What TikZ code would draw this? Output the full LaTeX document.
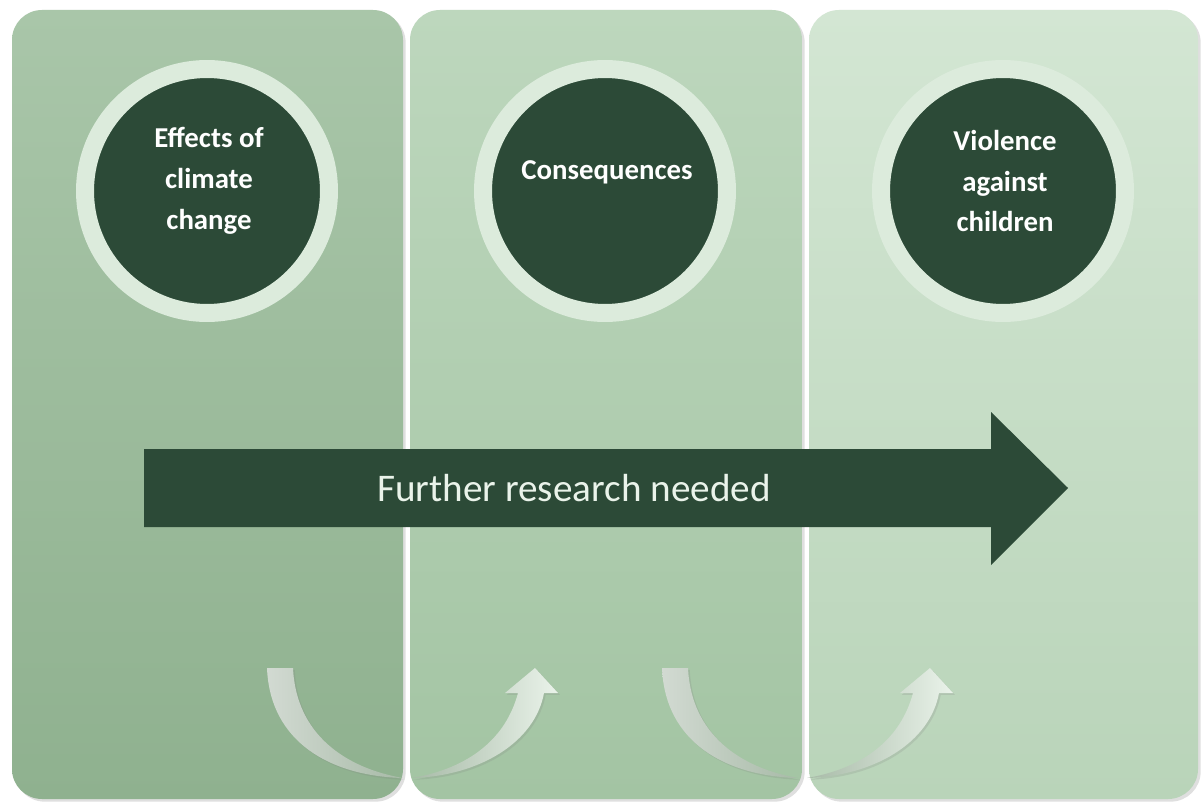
\documentclass[tikz,border=0pt]{standalone}
\usepackage{fontspec}
\setmainfont{Carlito}
\usetikzlibrary{shadows}

\definecolor{darkleaf}{HTML}{2C4A37}
\definecolor{ringleaf}{HTML}{DCEBDC}
\definecolor{panelAtop}{HTML}{A9C6A9}
\definecolor{panelAbot}{HTML}{8FB18F}
\definecolor{panelBtop}{HTML}{BDD7BD}
\definecolor{panelBbot}{HTML}{A3C4A3}
\definecolor{panelCtop}{HTML}{D3E6D3}
\definecolor{panelCbot}{HTML}{B9D4B9}
\definecolor{curvestart}{HTML}{D2DAD2}
\definecolor{curveend}{HTML}{A7BAA7}

\tikzset{
  panel/.style={rounded corners=0.6cm, draw=none,
    drop shadow={opacity=0.25, shadow xshift=1.5pt, shadow yshift=-1.5pt}},
  ring/.style={circle, fill=darkleaf, draw=ringleaf, line width=0.36cm,
    minimum size=4.88cm, inner sep=0pt,
    drop shadow={opacity=0.3, shadow xshift=1.5pt, shadow yshift=-1.5pt}},
  ringtext/.style={text=white, align=center,
    font=\bfseries\fontsize{16.4}{23.3}\selectfont},
  curvearrow/.style={draw=none,
    drop shadow={opacity=0.2, shadow xshift=1pt, shadow yshift=-1pt}}
}

\begin{document}
\begin{tikzpicture}[x=0.02cm, y=-0.02cm]

\useasboundingbox[fill=white] (0,0) rectangle (1203,807);

% three panels
\path[panel, top color=panelAtop, bottom color=panelAbot] (12,10) rectangle (403,799);
\path[panel, top color=panelBtop, bottom color=panelBbot] (410,10) rectangle (802,799);
\path[panel, top color=panelCtop, bottom color=panelCbot] (809,10) rectangle (1198,799);

% circles
\node[ring] (effects) at (207,191) {};
\node[ring] (conseq) at (605,191) {};
\node[ring] (violence) at (1003,191) {};

\node[ringtext] (effects text) at (209,181) {Effects of\\climate\\change};
\node[ringtext] (conseq text) at (607,172) {Consequences};
\node[ringtext] (violence text) at (1005,181) {Violence\\against\\children};

% big arrow
\fill[darkleaf] (144,449) -- (991,449) -- (991,412) -- (1068,488)
  -- (991,565) -- (991,527) -- (144,527) -- cycle;
\node[text=ringleaf!60!white, font=\fontsize{22.3}{26}\selectfont] (research) at (574,488) {Further research needed};

% curved arrows at the bottom
\foreach \dx in {0,395} {
  \begin{scope}[shift={(\dx,0)}]
    \path[curvearrow, left color=curvestart, right color=curveend]
      (267,668) .. controls (270,742) and (330,776) .. (403,778)
      .. controls (345,768) and (296,734) .. (293,668) -- cycle;
    \path[curvearrow, left color=curveend, right color=ringleaf!60!white]
      (412,778) .. controls (480,776) and (535,742) .. (544,693)
      -- (558,693) -- (535,668) -- (505,693) -- (518,693)
      .. controls (506,738) and (470,768) .. (412,778) -- cycle;
  \end{scope}
}

\end{tikzpicture}
\end{document}
